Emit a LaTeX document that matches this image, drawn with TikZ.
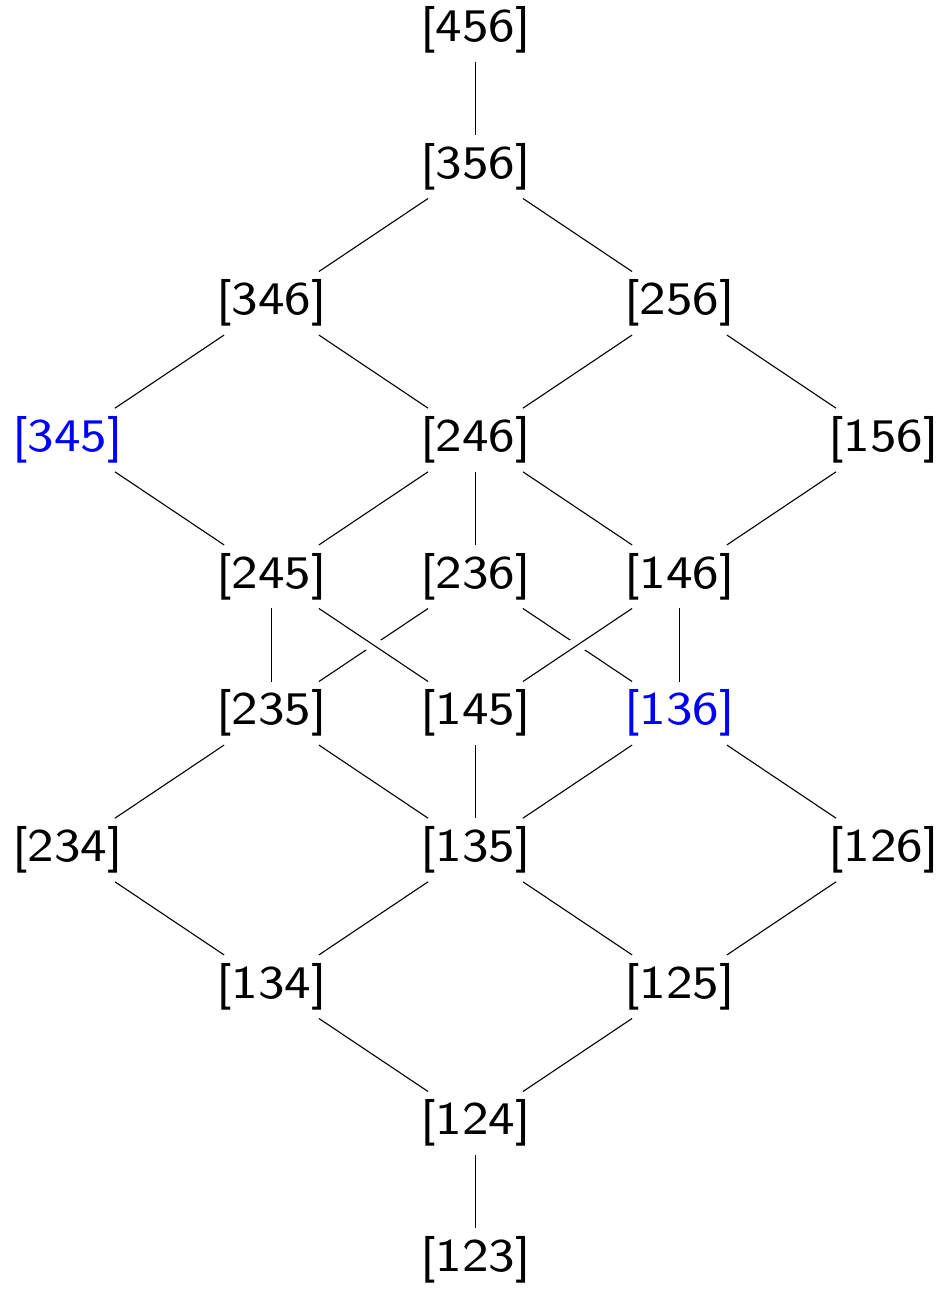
\documentclass[tikz,border=0pt]{standalone}
\usetikzlibrary{calc}
\newcommand{\lbl}[1]{\scalebox{3.12}[2.92]{\sffamily\fontsize{8}{10}\selectfont #1}}
\begin{document}
\begin{tikzpicture}[x=0.5pt,y=-0.5pt,
  lab/.style={inner sep=4pt},
  hi/.style={lab, text={rgb,255:red,0;green,0;blue,255}},
  edge/.style={draw=black, line width=0.55pt},
  gap/.style={draw=white, line width=8pt}]
\useasboundingbox (0,0) rectangle (951,1298);
\def\ca{67.5}\def\cb{271.5}\def\cc{475.5}\def\cd{679.5}\def\ce{883.5}
\node[lab] (n456) at (\cc,30) {\lbl{[456]}};
\node[lab] (n356) at (\cc,166.7) {\lbl{[356]}};
\node[lab] (n346) at (\cb,303.3) {\lbl{[346]}};
\node[lab] (n256) at (\cd,303.3) {\lbl{[256]}};
\node[hi]  (n345) at (\ca,440) {\lbl{[345]}};
\node[lab] (n246) at (\cc,440) {\lbl{[246]}};
\node[lab] (n156) at (\ce,440) {\lbl{[156]}};
\node[lab] (n245) at (\cb,576.7) {\lbl{[245]}};
\node[lab] (n236) at (\cc,576.7) {\lbl{[236]}};
\node[lab] (n146) at (\cd,576.7) {\lbl{[146]}};
\node[lab] (n235) at (\cb,713.3) {\lbl{[235]}};
\node[lab] (n145) at (\cc,713.3) {\lbl{[145]}};
\node[hi]  (n136) at (\cd,713.3) {\lbl{[136]}};
\node[lab] (n234) at (\ca,850) {\lbl{[234]}};
\node[lab] (n135) at (\cc,850) {\lbl{[135]}};
\node[lab] (n126) at (\ce,850) {\lbl{[126]}};
\node[lab] (n134) at (\cb,986.7) {\lbl{[134]}};
\node[lab] (n125) at (\cd,986.7) {\lbl{[125]}};
\node[lab] (n124) at (\cc,1123.3) {\lbl{[124]}};
\node[lab] (n123) at (\cc,1260) {\lbl{[123]}};
% lines passing under
\draw[edge] (n236) -- (n235);
\draw[edge] (n236) -- (n136);
\draw[gap] ($(n245)!0.44!(n145)$) -- ($(n245)!0.56!(n145)$);
\draw[gap] ($(n146)!0.44!(n145)$) -- ($(n146)!0.56!(n145)$);
% other lines
\draw[edge] (n456) -- (n356);
\draw[edge] (n356) -- (n346);
\draw[edge] (n356) -- (n256);
\draw[edge] (n346) -- (n345);
\draw[edge] (n346) -- (n246);
\draw[edge] (n256) -- (n246);
\draw[edge] (n256) -- (n156);
\draw[edge] (n345) -- (n245);
\draw[edge] (n246) -- (n245);
\draw[edge] (n246) -- (n236);
\draw[edge] (n246) -- (n146);
\draw[edge] (n156) -- (n146);
\draw[edge] (n245) -- (n235);
\draw[edge] (n245) -- (n145);
\draw[edge] (n146) -- (n145);
\draw[edge] (n146) -- (n136);
\draw[edge] (n235) -- (n234);
\draw[edge] (n235) -- (n135);
\draw[edge] (n145) -- (n135);
\draw[edge] (n136) -- (n135);
\draw[edge] (n136) -- (n126);
\draw[edge] (n234) -- (n134);
\draw[edge] (n135) -- (n134);
\draw[edge] (n135) -- (n125);
\draw[edge] (n126) -- (n125);
\draw[edge] (n134) -- (n124);
\draw[edge] (n125) -- (n124);
\draw[edge] (n124) -- (n123);
\end{tikzpicture}
\end{document}
